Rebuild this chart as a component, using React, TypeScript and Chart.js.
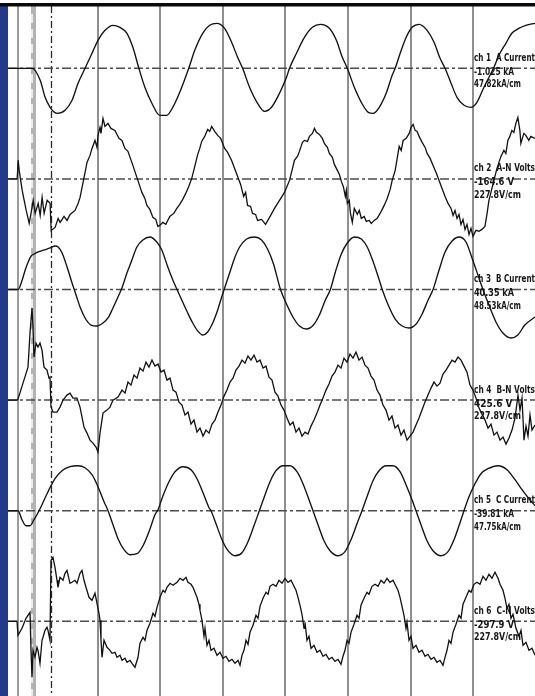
import React, { useEffect, useRef } from 'react';
import { Chart, registerables } from 'chart.js';

Chart.register(...registerables);

// ---------- time axis (ms) ----------
const gridTimes = [0, 10, 20, 30, 40, 50, 60];
const startMarkerTime = -12.8;
const triggerBandTime = -10.4;
const cursorTime = -7.6;
const labelTime = 60;
const timeMin = -14.4;
const timeMax = 69.92;

// ---------- channel texts ----------
const channelNames = ['ch 1  A Current', 'ch 2  A-N Volts', 'ch 3  B Current', 'ch 4  B-N Volts', 'ch 5  C Current', 'ch 6  C-N Volts'];
const channelReadouts = ['-1.025 kA', '-164.6 V', '40.35 kA', '425.6 V', '-39.81 kA', '-297.9 V'];
const channelScales = ['47.82kA/cm', '227.8V/cm', '48.53kA/cm', '227.8V/cm', '47.75kA/cm', '227.8V/cm'];

// ---------- ch1 A current (kA) ----------
const tA = [-14.36,-10.53,-9.25,-8.46,-7.66,-6.54,-5.27,-4.15,-3.19,-2.07,-0.96,0,1.12,2.39,3.51,4.63,5.58,6.54,7.5,8.62,9.89,11.01,11.97,13.08,14.52,15.48,16.75,17.87,18.99,20.26,21.38,22.34,23.14,24.25,25.53,26.65,27.76,29.04,30.16,30.64,31.75,33.03,34.31,35.58,37.02,38.14,39.09,39.89,41.01,42.13,43.24,44.04,45,46.11,47.07,47.55,48.35,49.31,50.26,51.38,52.66,53.77,54.73,55.53,56.49,57.44,58.56,59.68,60.63,61.75,62.55,63.35,64.15,65.26,66.22,67.34,68.45,69.92];
const iA = [0,0,-15,-36.25,-48.75,-56.25,-52.5,-40,-18.75,0,18.75,35,47.5,53.75,51.25,43.75,26.25,0,-23.75,-43.75,-58.75,-58.75,-48.75,-30,0,22.5,43.75,53.75,56.25,50,32.5,13.75,0,-23.75,-43.75,-53.75,-48.75,-31.25,-11.25,0,18.75,38.75,51.25,55,50,35,13.75,0,-23.75,-42.5,-55,-56.25,-48.75,-31.25,-8.75,0,18.75,38.75,51.25,55,47.5,32.5,12.5,0,-18.75,-36.25,-46.25,-48.75,-42.5,-23.75,-11.25,1.25,16.25,31.25,43.75,50,53.75,56.25];

// ---------- ch2 A-N volts (V) ----------
const tAN = [-14.36,-12.93,-12.77,-12.61,-12.13,-11.49,-11.01,-10.69,-10.37,-10.05,-9.57,-9.25,-8.94,-8.62,-8.14,-7.66,-7.5,-6.86,-6.38,-6.06,-5.43,-4.95,-4.47,-3.67,-3.19,-2.87,-2.39,-2.07,-1.76,-1.28,-0.96,-0.48,-0.16,0,0.32,0.48,0.8,1.12,1.6,2.07,2.71,3.35,3.83,4.31,4.79,5.58,6.22,6.7,7.02,7.5,7.82,8.3,8.78,9.25,9.57,9.89,10.37,10.85,11.49,12.13,12.61,13.08,13.56,14.04,14.52,15,15.48,15.96,16.28,16.59,17.07,17.55,17.87,18.19,18.67,19.15,19.63,20.26,20.74,21.38,21.86,22.34,22.82,23.3,23.62,23.93,24.41,24.73,25.21,25.53,26.17,26.81,27.45,28.24,29.04,29.84,30.64,31.12,31.43,31.91,32.23,32.71,33.03,33.51,33.83,34.31,34.63,34.95,35.42,35.9,36.22,36.7,37.02,37.5,37.82,38.3,38.62,38.93,39.25,39.57,39.73,39.89,40.21,40.37,40.69,41.01,41.49,41.81,42.13,42.6,42.92,43.4,43.72,44.2,44.68,45.31,45.79,46.27,46.75,47.07,47.55,47.87,48.19,48.51,48.83,49.31,49.79,50.1,50.42,50.74,51.06,51.38,51.86,52.34,52.66,53.14,53.61,54.09,54.57,55.05,55.53,56.01,56.49,56.81,57.12,57.44,57.76,58.08,58.4,58.72,59.04,59.36,59.68,60,60.47,60.95,61.43,61.91,62.23,62.55,63.03,63.35,63.83,64.15,64.47,64.94,65.26,65.58,65.9,66.22,66.54,66.86,67.18,67.5,67.66,68.13,68.45,68.93,69.25,69.92];
const vAN = [0,0,111,51,-69,-189,-267,-201,-129,-207,-147,-219,-111,-207,-129,-147,-309,-291,-237,-261,-225,-249,-213,-189,-147,-111,-21,39,99,141,183,231,189,261,309,273,363,315,333,303,291,243,231,183,165,81,9,-45,-81,-117,-159,-183,-231,-243,-285,-279,-261,-273,-225,-207,-177,-153,-123,-87,-45,3,75,147,183,225,255,297,285,315,285,261,243,183,159,111,63,15,-33,-105,-81,-159,-165,-207,-213,-249,-243,-273,-231,-177,-129,-81,-9,63,111,135,165,219,231,225,255,273,303,279,267,243,213,189,153,129,87,51,27,-15,-45,-105,-69,-147,-129,-201,-261,-177,-213,-189,-237,-225,-255,-249,-267,-249,-237,-195,-159,-117,-63,-9,51,123,195,171,231,243,273,309,327,291,285,255,219,189,153,123,81,39,-9,-57,-105,-147,-177,-219,-189,-237,-213,-273,-243,-303,-273,-333,-297,-345,-309,-315,-303,-285,-213,-129,-57,-9,63,99,135,171,153,231,255,291,279,333,369,291,213,273,261,231,255,243];

// ---------- ch3 B current (kA) ----------
const tB = [-14.36,-12.77,-12.13,-11.65,-11.17,-10.69,-10.21,-9.57,-8.62,-7.66,-6.86,-6.38,-5.74,-4.95,-4.15,-3.51,-2.87,-2.07,-1.12,-0.16,0.8,1.6,2.39,3.19,3.83,4.63,5.43,6.22,7.18,8.3,9.41,10.21,11.17,11.97,12.61,13.4,14.36,15.16,15.96,16.75,17.55,18.35,19.15,19.79,20.26,21.06,21.86,22.66,23.78,25.05,26.17,27.13,28.08,29.2,30.16,31.28,32.23,33.35,34.47,35.42,36.38,37.18,37.98,38.93,39.89,41.01,42.13,43.08,44.04,45,45.48,46.43,47.55,48.67,49.79,50.9,51.86,52.82,53.61,54.57,55.53,56.65,57.76,58.88,59.84,60.79,61.59,62.55,63.67,64.79,66.06,67.18,68.29,69.92];
const iB = [0,0,11.9,24.4,34.4,41.9,44.4,46.9,49.4,51.9,54.4,53.1,45.6,28.1,8.1,-6.9,-21.9,-35.6,-44.4,-45.6,-41.9,-35.6,-23.1,-9.4,1.9,20.6,36.9,53.1,61.9,65.6,59.4,49.4,28.1,11.9,0.6,-13.1,-29.4,-41.9,-51.9,-56.9,-53.1,-41.9,-25.6,-9.4,1.9,20.6,39.4,53.1,63.1,65.6,61.9,50.6,31.9,0,-18.1,-35.6,-45.6,-49.4,-44.4,-31.9,-13.1,0,21.9,44.4,58.1,65.6,63.1,53.1,34.4,11.9,0,-19.4,-36.9,-45.6,-48.1,-43.1,-30.6,-13.1,0,24.4,46.9,60.6,65.6,59.4,39.4,18.1,0,-19.4,-40.6,-54.4,-60.6,-56.9,-44.4,-34.4];

// ---------- ch4 B-N volts (V) ----------
const tBN = [-14.4,-12.96,-12.8,-12,-11.2,-10.88,-10.56,-10.4,-10.24,-9.92,-9.6,-9.28,-8.96,-8.64,-8.16,-7.84,-7.68,-7.52,-7.2,-6.56,-6.08,-5.6,-4.96,-4.48,-4,-3.36,-2.88,-2.56,-2.24,-1.76,-1.28,-0.8,-0.32,0,0.32,0.8,1.44,1.92,2.4,3.2,3.84,4.32,4.8,5.28,5.76,6.24,6.72,7.2,7.68,8.16,8.64,9.12,9.6,10.08,10.56,11.04,11.52,12,12.48,12.96,13.44,13.92,14.4,14.88,15.36,15.84,16.32,16.8,17.28,17.76,18.24,18.72,19.2,19.68,20.16,20.64,21.12,21.6,22.08,22.56,23.04,23.52,24,24.48,24.96,25.44,25.92,26.4,26.88,27.36,27.84,28.32,28.8,29.28,29.76,30.24,30.72,31.2,31.68,32.16,32.64,33.12,33.6,34.08,34.56,35.04,35.52,36,36.48,36.96,37.44,37.92,38.4,38.88,39.36,39.84,40.32,40.8,41.28,41.76,42.24,42.72,43.2,43.68,44.16,44.64,45.12,45.6,46.08,46.56,47.04,47.52,48,48.48,48.96,49.44,49.92,50.4,50.88,51.36,51.84,52.32,52.8,53.28,53.76,54.24,54.72,55.2,55.68,56.16,56.64,57.12,57.6,58.08,58.56,59.04,59.52,60,60.48,60.96,61.44,61.92,62.4,62.88,63.36,63.84,64.32,64.8,65.28,65.76,66.24,66.72,67.2,67.52,67.84,68.16,68.48,68.8,69.12,69.44,69.92];
const vBN = [0,0,6,102,198,402,552,438,258,342,318,342,300,198,180,132,138,-42,-72,-72,-42,0,30,42,12,12,-42,-102,-162,-198,-240,-258,-282,-312,-198,-78,-60,-42,0,18,60,42,108,90,150,132,192,174,228,198,240,204,216,168,180,120,132,60,48,-12,-30,-90,-72,-144,-120,-192,-168,-216,-180,-198,-144,-120,-72,-30,24,60,108,132,180,204,240,222,264,240,270,228,240,192,204,138,120,48,24,-30,-60,-108,-150,-132,-192,-168,-216,-192,-204,-156,-120,-78,-30,12,60,96,144,168,210,192,252,228,276,252,288,240,258,210,192,144,120,60,30,-30,-60,-120,-96,-168,-150,-210,-180,-240,-216,-192,-150,-108,-60,-12,30,72,108,84,102,156,180,210,240,228,258,240,204,168,90,60,12,-48,-84,-120,-168,-144,-210,-192,-240,-222,-264,-228,-180,-108,30,-60,12,-240,-156,-216,-90,-180,-150];

// ---------- ch5 C current (kA) ----------
const tC = [-14.4,-12.8,-12.16,-11.52,-10.88,-10.24,-9.6,-8.96,-8,-6.88,-5.76,-4.48,-3.2,-2.08,-0.96,0,0.96,1.6,2.4,3.2,4.16,5.12,6.24,7.2,8.16,9.12,9.6,10.4,11.36,12.32,13.6,14.88,15.84,16.8,17.76,18.08,18.88,19.84,20.8,21.92,23.04,24,24.96,25.76,26.56,27.52,28.48,29.6,30.72,31.84,32.8,33.76,34.4,35.2,36.16,37.12,38.4,39.52,40.48,41.44,42.24,43.04,44,44.96,46.08,47.2,48.32,49.28,50.24,50.88,51.68,52.64,53.6,54.88,56,56.96,57.76,58.56,59.36,60.32,61.28,62.4,64,65.44,66.72,67.84,68.96,69.92];
const iC = [0,0,-11.25,-18.75,-18.75,-11.25,-2.5,7.5,23.75,40,50,55,56.25,53.75,45,30,11.25,0,-17.5,-35,-48.75,-55,-53.75,-43.75,-26.25,-5,1.25,18.75,36.25,48.75,55,51.25,40,22.5,3.75,0,-16.25,-36.25,-50,-56.25,-52.5,-38.75,-18.75,-1.25,16.25,36.25,50,56.25,56.25,48.75,33.75,13.75,0,-17.5,-37.5,-50,-56.25,-51.25,-36.25,-16.25,0,17.5,37.5,50,56.25,56.25,48.75,32.5,13.75,0,-17.5,-37.5,-50,-56.25,-51.25,-36.25,-18.75,0,17.5,33.75,46.25,52.5,56.25,51.25,38.75,26.25,15,6.25];

// ---------- ch6 C-N volts (V) ----------
const tCN = [-14.4,-12.96,-12.8,-12.16,-11.52,-10.88,-10.72,-10.56,-10.4,-10.08,-9.76,-9.6,-9.28,-8.96,-8.8,-8.48,-8.16,-8,-7.68,-7.52,-7.2,-6.88,-6.56,-6.4,-6.08,-5.6,-5.28,-4.96,-4.48,-4.16,-3.68,-3.36,-2.88,-2.56,-2.24,-1.92,-1.44,-0.96,-0.48,-0.16,0.16,0.32,0.48,0.64,0.96,1.44,1.92,2.24,2.72,3.04,3.52,3.84,4.32,4.64,5.12,5.44,5.92,6.4,6.72,7.2,7.52,7.84,8.32,8.8,9.12,9.44,9.92,10.4,10.72,11.04,11.52,12,12.64,13.12,13.6,14.08,14.4,14.88,15.2,15.52,15.84,16.16,16.32,16.64,16.96,17.12,17.44,17.76,18.08,18.56,19.04,19.52,20,20.48,20.96,21.44,21.92,22.4,22.72,23.04,23.36,23.68,24,24.32,24.8,25.28,25.6,25.92,26.4,26.88,27.2,27.52,28,28.48,28.96,29.44,29.92,30.4,30.88,31.36,31.68,32,32.32,32.64,32.96,33.12,33.44,33.76,34.08,34.56,35.04,35.52,36,36.48,36.96,37.44,37.92,38.4,38.88,39.2,39.52,39.84,40.16,40.48,40.96,41.44,41.76,42.08,42.56,43.04,43.36,43.84,44.32,44.8,45.28,45.76,46.24,46.72,47.2,47.68,48,48.32,48.64,48.96,49.28,49.44,49.76,50.08,50.4,50.88,51.36,51.84,52.32,52.8,53.28,53.76,54.24,54.72,55.2,55.52,55.84,56.16,56.48,56.8,57.28,57.76,58.08,58.4,58.88,59.36,59.68,60.16,60.64,61.12,61.6,62.08,62.56,63.04,63.52,64,64.32,64.8,65.12,65.44,65.76,66.08,66.4,66.88,67.36,67.68,68,68.48,68.96,69.44,69.92];
const vCN = [0,0,-84,-42,18,54,-174,-336,-174,-216,-156,-174,-252,-114,-96,-54,-36,-54,-114,366,384,324,246,204,264,246,288,306,228,234,246,228,288,306,246,204,144,126,168,108,48,6,-114,-216,-114,-156,-174,-192,-186,-216,-204,-234,-222,-246,-234,-252,-276,-216,-132,-96,-114,-54,-12,48,30,84,144,186,174,204,228,216,234,258,246,264,234,222,204,174,144,102,66,6,-90,-42,-144,-114,-174,-162,-204,-186,-222,-210,-240,-228,-252,-234,-264,-204,-174,-114,-138,-66,-24,36,18,90,138,174,162,210,222,210,246,228,258,234,246,210,186,144,96,42,-42,-6,-114,-90,-162,-144,-186,-174,-210,-198,-228,-216,-240,-228,-258,-210,-174,-114,-132,-66,-18,36,18,96,138,174,162,210,222,210,246,228,258,234,246,210,186,144,90,36,-42,-6,-114,-90,-162,-144,-186,-174,-210,-198,-228,-216,-246,-234,-264,-216,-174,-114,-132,-66,-18,36,18,102,144,186,174,222,234,222,270,246,282,258,294,258,222,186,138,78,102,18,42,-42,-90,-54,-144,-126,-174,-162,-204];

// ---------- layout (pixels) ----------
const FRAME_LEFT = 8;
const FRAME_TOP = 6;
const PAGE_W = 535;
const PAGE_H = 696;
const FIRST_BASELINE = 68.3;
const CHANNEL_PITCH = 110.6;
const UNITS_PER_PX = [1.25, 6, 1.25, 6, 1.25, 6];

export default function App() {
  const ref = useRef<HTMLCanvasElement | null>(null);

  useEffect(() => {
    const canvas = ref.current;
    if (!canvas) return;

    const series: [number[], number[]][] = [[tA, iA], [tAN, vAN], [tB, iB], [tBN, vBN], [tC, iC], [tCN, vCN]];
    const isCurrent = [true, false, true, false, true, false];

    const datasets = series.map(([ts, vs], k) => {
      const n = Math.min(ts.length, vs.length);
      const pts = [] as { x: number; y: number }[];
      for (let i = 0; i < n; i++) pts.push({ x: ts[i], y: vs[i] });
      return {
        label: channelNames[k],
        data: pts,
        yAxisID: 'y' + (k + 1),
        borderColor: '#111111',
        borderWidth: isCurrent[k] ? 1.35 : 1.3,
        pointRadius: 0,
        fill: false,
        tension: isCurrent[k] ? 0.4 : 0,
        cubicInterpolationMode: isCurrent[k] ? 'monotone' : 'default',
      };
    });

    const scales: any = {
      x: { type: 'linear', min: timeMin, max: timeMax, display: false },
    };
    for (let k = 0; k < 6; k++) {
      const base = FIRST_BASELINE + k * CHANNEL_PITCH;
      const u = UNITS_PER_PX[k];
      scales['y' + (k + 1)] = {
        type: 'linear',
        display: false,
        min: -(PAGE_H - base) * u,
        max: (base - FRAME_TOP) * u,
      };
    }

    const vline = (ctx: CanvasRenderingContext2D, x: number, top: number, bottom: number) => {
      ctx.beginPath();
      ctx.moveTo(x, top);
      ctx.lineTo(x, bottom);
      ctx.stroke();
    };

    const scopePlugin = {
      id: 'scopeFrame',
      beforeDatasetsDraw(chart: any) {
        const ctx: CanvasRenderingContext2D = chart.ctx;
        const { top, bottom, left, right } = chart.chartArea;
        const xs = chart.scales.x;
        ctx.save();
        // division lines
        ctx.strokeStyle = '#8f8f8f';
        ctx.lineWidth = 2;
        ctx.setLineDash([]);
        gridTimes.forEach((t) => vline(ctx, Math.round(xs.getPixelForValue(t)), top, bottom));
        // start marker
        ctx.strokeStyle = '#9c9c9c';
        ctx.lineWidth = 2;
        vline(ctx, Math.round(xs.getPixelForValue(startMarkerTime)), top, bottom);
        // trigger band
        const bx = xs.getPixelForValue(triggerBandTime);
        ctx.strokeStyle = '#b3b3b3';
        ctx.lineWidth = 5;
        vline(ctx, bx + 0.5, top, bottom);
        ctx.strokeStyle = '#ffffff';
        ctx.lineWidth = 1.5;
        ctx.setLineDash([9, 6]);
        vline(ctx, bx - 1, top + 8, bottom);
        // cursor
        ctx.strokeStyle = '#2a2a2a';
        ctx.lineWidth = 1.3;
        ctx.setLineDash([7, 3, 2, 3]);
        vline(ctx, Math.round(xs.getPixelForValue(cursorTime)) + 0.5, top, bottom);
        // channel baselines
        ctx.strokeStyle = '#4c4c4c';
        ctx.lineWidth = 1.5;
        ctx.setLineDash([9, 3, 3, 3]);
        for (let k = 0; k < 6; k++) {
          const y = chart.scales['y' + (k + 1)].getPixelForValue(0);
          ctx.beginPath();
          ctx.moveTo(left, y);
          ctx.lineTo(right, y);
          ctx.stroke();
        }
        ctx.restore();
      },
      afterDatasetsDraw(chart: any) {
        const ctx: CanvasRenderingContext2D = chart.ctx;
        const xs = chart.scales.x;
        const lx = xs.getPixelForValue(labelTime) + 1;
        ctx.save();
        ctx.fillStyle = '#161616';
        ctx.textAlign = 'left';
        ctx.textBaseline = 'middle';
        ctx.font = "bold 10px 'Liberation Sans Narrow', 'DejaVu Sans Condensed', 'Liberation Sans', sans-serif";
        for (let k = 0; k < 6; k++) {
          const y0 = chart.scales['y' + (k + 1)].getPixelForValue(0);
          ctx.fillText(channelNames[k], lx, y0 - 10, 61);
          ctx.fillText(channelReadouts[k], lx, y0 + 4, 40);
          ctx.fillText(channelScales[k], lx, y0 + 16.5, 47);
        }
        ctx.restore();
      },
      afterDraw(chart: any) {
        const ctx: CanvasRenderingContext2D = chart.ctx;
        const { top, left } = chart.chartArea;
        ctx.save();
        ctx.fillStyle = '#233a8b';
        ctx.fillRect(0, top, left, chart.height - top);
        ctx.fillStyle = '#0a0a0a';
        ctx.fillRect(0, top - 3, chart.width, 3.5);
        ctx.restore();
      },
    };

    const chart = new Chart(canvas, {
      type: 'line',
      data: { datasets: datasets as any },
      options: {
        animation: false,
        responsive: true,
        maintainAspectRatio: false,
        devicePixelRatio: 1,
        layout: { padding: { left: FRAME_LEFT, top: FRAME_TOP, right: 0, bottom: 0 } },
        plugins: { legend: { display: false }, tooltip: { enabled: false }, title: { display: false } },
        events: [],
        scales,
      } as any,
      plugins: [scopePlugin],
    });

    return () => chart.destroy();
  }, []);

  return (
    <div style={{ position: 'fixed', left: 0, top: 0, width: PAGE_W, height: PAGE_H, background: '#ffffff', overflow: 'hidden' }}>
      <canvas ref={ref} style={{ width: '100%', height: '100%', display: 'block' }} />
    </div>
  );
}
